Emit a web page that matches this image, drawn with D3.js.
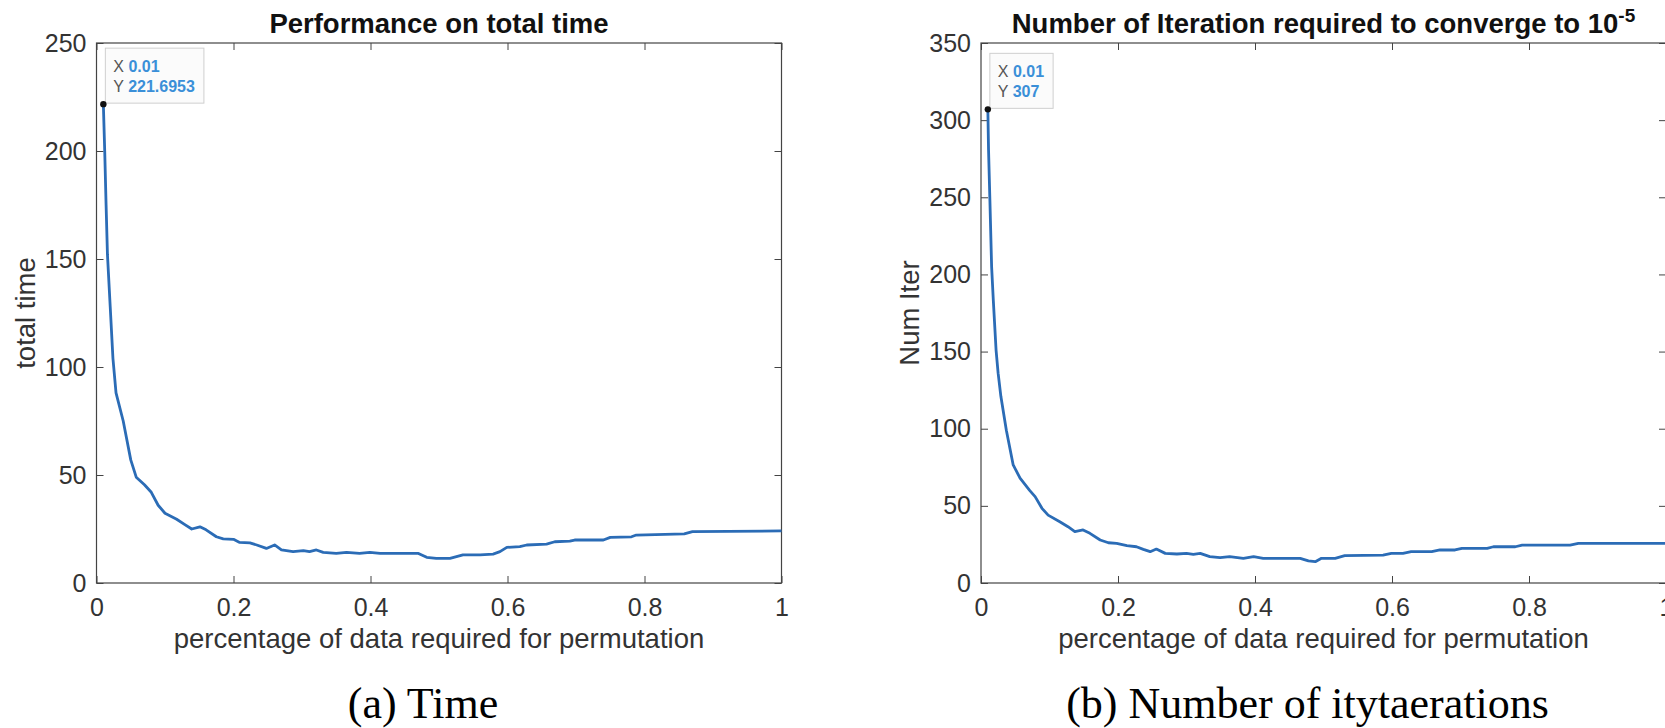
<!DOCTYPE html>
<html>
<head>
<meta charset="utf-8">
<script src="https://cdn.jsdelivr.net/npm/d3@7"></script>
<style>
	body { margin: 0; background: #fff; }
	svg { display: block; }
	text { font-family: "Liberation Sans", Arial, Helvetica, sans-serif; }
</style>
</head>
<body>
<script>
// x values, total time
var timeX = [0.01, 0.012, 0.014, 0.016, 0.02, 0.024, 0.0285, 0.039, 0.05, 0.058, 0.07, 0.08, 0.09, 0.1,
	0.117, 0.129, 0.139, 0.151, 0.16, 0.175, 0.185, 0.2, 0.209, 0.224, 0.234, 0.248, 0.26, 0.27,
	0.287, 0.302, 0.311, 0.321, 0.331, 0.35, 0.365, 0.384, 0.399, 0.414, 0.47, 0.482, 0.496, 0.516,
	0.535, 0.56, 0.579, 0.589, 0.599, 0.618, 0.628, 0.657, 0.669, 0.691, 0.698, 0.74, 0.75, 0.781,
	0.788, 0.858, 0.87, 1.0];
var timeY = [221.6953, 200, 175, 152, 128, 104, 88, 75, 57, 49, 45.5, 42, 36, 32.3,
	29.5, 27, 25, 26, 24.6, 21.4, 20.4, 20.2, 18.8, 18.6, 17.6, 16, 17.6, 15.3,
	14.5, 15, 14.5, 15.3, 14.2, 13.7, 14.2, 13.7, 14.2, 13.7, 13.7, 11.9, 11.4, 11.4,
	13, 13, 13.4, 14.5, 16.5, 16.8, 17.6, 18, 19.1, 19.4, 19.9, 19.9, 21.1, 21.4,
	22.2, 22.7, 23.8, 24.1];

// x values, number of iterations
var iterX = [0.01, 0.011, 0.013, 0.0155, 0.018, 0.022, 0.025, 0.029, 0.037, 0.047, 0.057, 0.071, 0.079,
	0.089, 0.098, 0.115, 0.127, 0.137, 0.149, 0.159, 0.174, 0.186, 0.198, 0.213, 0.227, 0.237,
	0.247, 0.256, 0.269, 0.286, 0.3, 0.31, 0.32, 0.334, 0.349, 0.363, 0.383, 0.398, 0.412, 0.466,
	0.478, 0.488, 0.497, 0.517, 0.531, 0.587, 0.599, 0.616, 0.628, 0.658, 0.67, 0.692, 0.702,
	0.739, 0.748, 0.78, 0.79, 0.86, 0.872, 1.0];
var iterY = [307, 281, 248, 205, 183, 151, 136, 121, 99, 76.5, 68, 60, 56,
	48.4, 44, 39.7, 36.5, 33.3, 34.4, 32.2, 27.9, 26.1, 25.7, 24.2, 23.5, 21.8,
	20.3, 22, 19.2, 18.8, 19.2, 18.6, 19.2, 17.1, 16.4, 17.1, 16, 17.1, 16, 16,
	14.3, 13.8, 16, 16, 17.7, 18.1, 19.2, 19.2, 20.3, 20.3, 21.4, 21.4, 22.5,
	22.5, 23.5, 23.5, 24.6, 24.6, 25.7, 25.7];

var xTicks = [0, 0.2, 0.4, 0.6, 0.8, 1];
var timeTicks = [0, 50, 100, 150, 200, 250];
var iterTicks = [0, 50, 100, 150, 200, 250, 300, 350];

var panels = [
	{ left: 96.5, xs: timeX, ys: timeY, yMax: 250, yTicks: timeTicks,
	  title: "Performance on total time", sup: null,
	  yLabel: "total time", tipX: "0.01", tipY: "221.6953",
	  caption: "(a) Time" },
	{ left: 981, xs: iterX, ys: iterY, yMax: 350, yTicks: iterTicks,
	  title: "Number of Iteration required to converge to 10", sup: "-5",
	  yLabel: "Num Iter", tipX: "0.01", tipY: "307",
	  caption: "(b) Number of itytaerations" }
];

var width = 1665, height = 728;
var top_ = 43, bottom_ = 583, plotW = 685;
var lineColor = "#2b6cb6";
var axisColor = "#444";

var svg = d3.select("body")
	.append("svg")
	.attr("width", width)
	.attr("height", height);

panels.forEach(drawPanel);

function drawPanel(p) {
	var x = d3.scaleLinear().domain([0, 1]).range([p.left, p.left + plotW]);
	var y = d3.scaleLinear().domain([0, p.yMax]).range([bottom_, top_]);
	var g = svg.append("g");
	var fmt = function(d) { return d === 0 ? "0" : d === 1 ? "1" : d3.format(".1f")(d); };

	// bottom and left axes with labels, inward ticks
	g.append("g")
		.attr("transform", "translate(0," + bottom_ + ")")
		.call(d3.axisBottom(x).tickValues(xTicks).tickFormat(fmt).tickSizeInner(-7).tickSizeOuter(0).tickPadding(15))
		.call(styleAxis);
	g.append("g")
		.attr("transform", "translate(" + p.left + ",0)")
		.call(d3.axisLeft(y).tickValues(p.yTicks).tickSizeInner(-7).tickSizeOuter(0).tickPadding(10))
		.call(styleAxis);
	// mirrored ticks on top and right
	g.append("g")
		.attr("transform", "translate(0," + top_ + ")")
		.call(d3.axisTop(x).tickValues(xTicks).tickFormat("").tickSizeInner(-7).tickSizeOuter(0))
		.call(styleAxis);
	g.append("g")
		.attr("transform", "translate(" + (p.left + plotW) + ",0)")
		.call(d3.axisRight(y).tickValues(p.yTicks).tickFormat("").tickSizeInner(-7).tickSizeOuter(0))
		.call(styleAxis);

	g.append("rect")
		.attr("x", p.left)
		.attr("y", top_)
		.attr("width", plotW)
		.attr("height", bottom_ - top_)
		.attr("fill", "none")
		.attr("stroke", axisColor)
		.attr("stroke-width", 1.2);

	var line = d3.line()
		.x(function(d, i) { return x(p.xs[i]); })
		.y(function(d) { return y(d); });

	g.append("path")
		.datum(p.ys)
		.attr("d", line)
		.attr("fill", "none")
		.attr("stroke", lineColor)
		.attr("stroke-width", 2.8)
		.attr("stroke-linejoin", "round");

	// title
	var t = g.append("text")
		.attr("x", p.left + plotW / 2)
		.attr("y", 33)
		.attr("text-anchor", "middle")
		.attr("font-size", 27.5)
		.attr("font-weight", "bold")
		.attr("fill", "#111")
		.text(p.title);
	if (p.sup) {
		t.append("tspan")
			.attr("dy", -11)
			.attr("font-size", 19)
			.text(p.sup);
	}

	g.append("text")
		.attr("x", p.left + plotW / 2)
		.attr("y", 648)
		.attr("text-anchor", "middle")
		.attr("font-size", 27.5)
		.attr("fill", "#333")
		.text("percentage of data required for permutation");

	g.append("text")
		.attr("transform", "translate(" + (p.left - 62) + "," + ((top_ + bottom_) / 2) + ") rotate(-90)")
		.attr("text-anchor", "middle")
		.attr("font-size", 27.5)
		.attr("fill", "#333")
		.text(p.yLabel);

	g.append("text")
		.attr("x", p.left + plotW / 2 - 16)
		.attr("y", 718)
		.attr("text-anchor", "middle")
		.attr("font-size", 44)
		.attr("fill", "#000")
		.style("font-family", "'Liberation Serif', 'Times New Roman', serif")
		.text(p.caption);

	// data tip at the first point
	var px = x(p.xs[0]), py = y(p.ys[0]);
	var tip = g.append("g");
	var box = tip.append("rect")
		.attr("fill", "#fbfbfb")
		.attr("stroke", "#cfcfcf")
		.attr("stroke-width", 1);
	var l1 = tip.append("text").attr("font-size", 16);
	l1.append("tspan").attr("fill", "#555").text("X ");
	l1.append("tspan").attr("fill", "#3a8fd8").attr("font-weight", "bold").text(p.tipX);
	var l2 = tip.append("text").attr("font-size", 16);
	l2.append("tspan").attr("fill", "#555").text("Y ");
	l2.append("tspan").attr("fill", "#3a8fd8").attr("font-weight", "bold").text(p.tipY);
	var w = Math.max(l1.node().getComputedTextLength(), l2.node().getComputedTextLength()) + 17;
	var bx = px + 2, by = py - 56;
	box.attr("x", bx).attr("y", by).attr("width", w).attr("height", 55);
	l1.attr("x", bx + 8).attr("y", by + 24);
	l2.attr("x", bx + 8).attr("y", by + 44);

	g.append("circle")
		.attr("cx", px)
		.attr("cy", py)
		.attr("r", 3.2)
		.attr("fill", "#111");
}

function styleAxis(sel) {
	sel.select(".domain").remove();
	sel.selectAll(".tick line").attr("stroke", axisColor);
	sel.selectAll(".tick text")
		.attr("font-size", 25)
		.attr("fill", "#333")
		.style("font-family", "'Liberation Sans', Arial, sans-serif");
}
</script>
</body>
</html>
